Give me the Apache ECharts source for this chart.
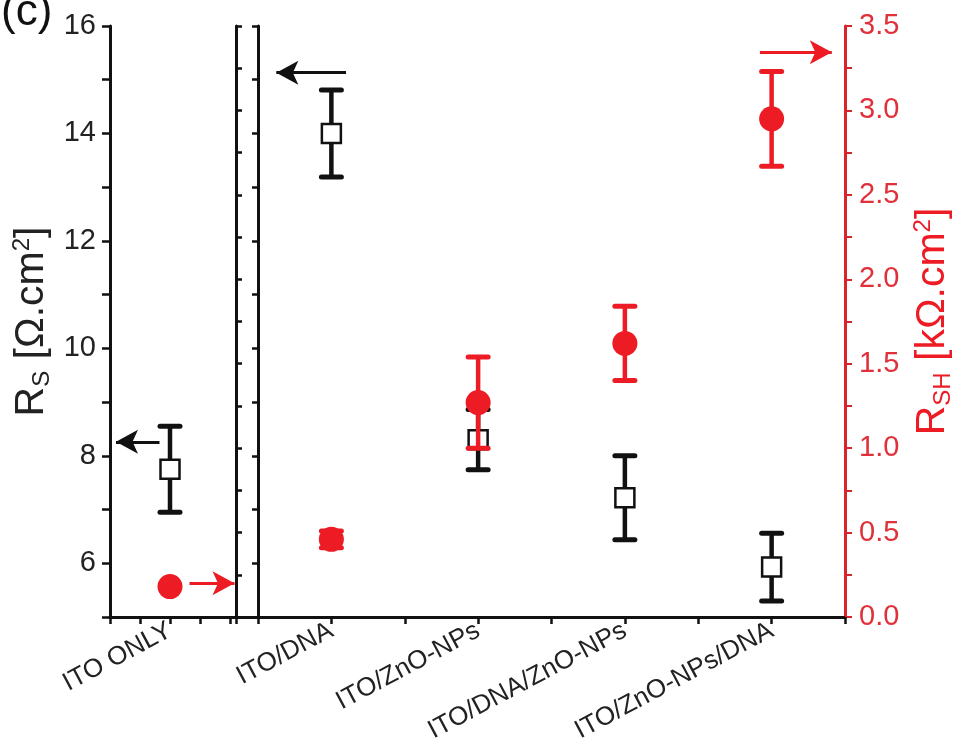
<!DOCTYPE html>
<html>
<head>
<meta charset="utf-8">
<script src="https://cdn.jsdelivr.net/npm/echarts@6/dist/echarts.min.js"></script>
<style>
  html, body { margin: 0; padding: 0; background: #fff; }
  #chart { width: 963px; height: 740px; }
</style>
</head>
<body>
<div id="chart"></div>
<script>
// values
const categories = ['ITO ONLY', 'ITO/DNA', 'ITO/ZnO-NPs', 'ITO/DNA/ZnO-NPs', 'ITO/ZnO-NPs/DNA']
const rsValues = [7.75, 14.0, 8.3, 7.22, 5.93]        // Ω.cm2, left axis
const rsErrors = [0.8, 0.81, 0.56, 0.78, 0.63]
const rshValues = [0.18, 0.46, 1.27, 1.62, 2.95]      // kΩ.cm2, right axis
const rshErrors = [0, 0.05, 0.27, 0.22, 0.28]

const RED = '#ec1b24'
const BLACK = '#111'

// first category sits alone in the left panel, the rest in the right panel
const leftX = [2]
const rightX = categories.slice(1).map((_, i) => 2 * i + 1)

function points(vals, xs, offset) {
  return xs.map((x, i) => [x, vals[i + offset]])
}
function bars(vals, errs, xs, offset) {
  return xs.map((x, i) => [x, vals[i + offset] - errs[i + offset], vals[i + offset] + errs[i + offset]])
}

function errorBar(color) {
  return function (params, api) {
    const x = api.value(0)
    const lo = api.value(1)
    const hi = api.value(2)
    if (hi - lo <= 0) return null
    const top = api.coord([x, hi])
    const bot = api.coord([x, lo])
    const w = 10
    return {
      type: 'group',
      children: [
        { type: 'line', shape: { x1: top[0], y1: top[1], x2: bot[0], y2: bot[1] }, style: { stroke: color, lineWidth: 4.5 } },
        { type: 'line', shape: { x1: top[0] - w, y1: top[1], x2: top[0] + w, y2: top[1] }, style: { stroke: color, lineWidth: 5, lineCap: 'round' } },
        { type: 'line', shape: { x1: bot[0] - w, y1: bot[1], x2: bot[0] + w, y2: bot[1] }, style: { stroke: color, lineWidth: 5, lineCap: 'round' } },
      ],
    }
  }
}

function arrow(color, from, to) {
  return {
    silent: true,
    symbol: ['none', 'arrow'],
    symbolSize: [18, 22],
    label: { show: false },
    lineStyle: { color: color, width: 3, type: 'solid', opacity: 1 },
    data: [[{ coord: from }, { coord: to }]],
  }
}

const rsFmt = (v) => (Math.round(v) % 2 === 0 ? String(Math.round(v)) : '')
const rshFmt = (v) => (Math.abs(v * 2 - Math.round(v * 2)) < 1e-6 ? v.toFixed(1) : '')

const blackLine = { show: true, lineStyle: { color: BLACK, width: 3 } }
const catLabel = { rotate: 28, fontSize: 26, color: '#222', margin: 12 }

const chart = echarts.init(document.getElementById('chart'))
chart.setOption({
  animation: false,
  textStyle: { fontFamily: 'Liberation Sans, Arial, sans-serif' },
  title: {
    text: '(c)',
    left: -4,
    top: -14,
    textStyle: { fontSize: 44, fontWeight: 'normal', color: BLACK, fontFamily: 'Liberation Sans, Arial, sans-serif' },
  },
  grid: [
    { left: 110, top: 26, width: 126, height: 591, outerBoundsMode: 'none' },
    { left: 258, top: 26, width: 587, height: 591, outerBoundsMode: 'none' },
    { left: 110, top: 26, width: 735, height: 591, outerBoundsMode: 'none' },
  ],
  xAxis: [
    {
      type: 'value', gridIndex: 0, min: 0, max: 4.2, interval: 1,
      axisLine: blackLine,
      axisTick: { show: true, length: 7, lineStyle: { color: BLACK, width: 2.5 } },
      splitLine: { show: false },
      axisLabel: Object.assign({}, catLabel, {
        formatter: (v) => (v === leftX[0] ? categories[0] : ''),
      }),
    },
    {
      type: 'value', gridIndex: 1, min: 0, max: 8, interval: 1,
      axisLine: blackLine,
      axisTick: { show: true, length: 7, lineStyle: { color: BLACK, width: 2.5 } },
      splitLine: { show: false },
      axisLabel: Object.assign({}, catLabel, {
        formatter: (v) => {
          const i = rightX.indexOf(v)
          return i >= 0 ? categories[i + 1] : ''
        },
      }),
    },
    {
      type: 'value', gridIndex: 2, position: 'top', min: 0, max: 1,
      axisLine: blackLine, axisTick: { show: false }, axisLabel: { show: false }, splitLine: { show: false },
    },
  ],
  yAxis: [
    {
      type: 'value', gridIndex: 0, min: 5, max: 16, interval: 1,
      axisLine: blackLine,
      axisTick: { show: true, length: 8, lineStyle: { color: BLACK, width: 2.5 } },
      splitLine: { show: false },
      axisLabel: { fontSize: 29, color: '#222', margin: 14, formatter: rsFmt },
      name: 'R{sub|S} [Ω.cm{sup|2}]',
      nameLocation: 'middle',
      nameGap: 56,
      nameTextStyle: {
        fontSize: 41, color: '#222',
        rich: {
          sub: { fontSize: 24, color: '#222', verticalAlign: 'bottom', padding: [20, 0, 0, 0] },
          sup: { fontSize: 24, color: '#222', verticalAlign: 'top', padding: [0, 0, 16, 0] },
        },
      },
    },
    {
      type: 'value', gridIndex: 0, position: 'right', min: 0, max: 3.5, interval: 0.25,
      axisLine: blackLine,
      axisTick: { show: true, length: 6, lineStyle: { color: BLACK, width: 2.5 } },
      axisLabel: { show: false }, splitLine: { show: false },
    },
    {
      type: 'value', gridIndex: 1, position: 'left', min: 5, max: 16, interval: 1,
      axisLine: blackLine,
      axisTick: { show: true, length: 6, lineStyle: { color: BLACK, width: 2.5 } },
      axisLabel: { show: false }, splitLine: { show: false },
    },
    {
      type: 'value', gridIndex: 1, position: 'right', min: 0, max: 3.5, interval: 0.25,
      axisLine: { show: true, lineStyle: { color: '#d8242b', width: 3 } },
      axisTick: { show: true, length: 7, lineStyle: { color: '#d8242b', width: 2 } },
      splitLine: { show: false },
      axisLabel: { fontSize: 29, color: '#e0303a', margin: 14, formatter: rshFmt },
      name: 'R{sub|SH} [kΩ.cm{sup|2}]',
      nameLocation: 'middle',
      nameGap: 66,
      nameTextStyle: {
        fontSize: 41, color: RED,
        rich: {
          sub: { fontSize: 24, color: RED, verticalAlign: 'bottom', padding: [20, 0, 0, 0] },
          sup: { fontSize: 24, color: RED, verticalAlign: 'top', padding: [0, 0, 16, 0] },
        },
      },
    },
    { type: 'value', gridIndex: 2, show: false, min: 0, max: 1 },
  ],
  series: [
    // left panel
    {
      type: 'custom', xAxisIndex: 0, yAxisIndex: 0, renderItem: errorBar(BLACK),
      encode: { x: 0, y: [1, 2] }, data: bars(rsValues, rsErrors, leftX, 0), z: 2,
    },
    {
      type: 'scatter', xAxisIndex: 0, yAxisIndex: 0, symbol: 'rect', symbolSize: 19,
      itemStyle: { color: '#fff', borderColor: BLACK, borderWidth: 2.5, opacity: 1 },
      data: points(rsValues, leftX, 0), z: 3,
      markLine: arrow(BLACK, [1.65, 8.26], [0.2, 8.26]),
    },
    {
      type: 'custom', xAxisIndex: 0, yAxisIndex: 1, renderItem: errorBar(RED),
      encode: { x: 0, y: [1, 2] }, data: bars(rshValues, rshErrors, leftX, 0), z: 4,
    },
    {
      type: 'scatter', xAxisIndex: 0, yAxisIndex: 1, symbol: 'circle', symbolSize: 25,
      itemStyle: { color: RED, opacity: 1 }, data: points(rshValues, leftX, 0), z: 5,
      markLine: arrow(RED, [2.65, 0.2], [4.15, 0.2]),
    },
    // right panel
    {
      type: 'custom', xAxisIndex: 1, yAxisIndex: 2, renderItem: errorBar(BLACK),
      encode: { x: 0, y: [1, 2] }, data: bars(rsValues, rsErrors, rightX, 1), z: 2,
    },
    {
      type: 'scatter', xAxisIndex: 1, yAxisIndex: 2, symbol: 'rect', symbolSize: 19,
      itemStyle: { color: '#fff', borderColor: BLACK, borderWidth: 2.5, opacity: 1 },
      data: points(rsValues, rightX, 1), z: 3,
      markLine: arrow(BLACK, [1.2, 15.13], [0.25, 15.13]),
    },
    {
      type: 'custom', xAxisIndex: 1, yAxisIndex: 3, renderItem: errorBar(RED),
      encode: { x: 0, y: [1, 2] }, data: bars(rshValues, rshErrors, rightX, 1), z: 4,
    },
    {
      type: 'scatter', xAxisIndex: 1, yAxisIndex: 3, symbol: 'circle', symbolSize: 25,
      itemStyle: { color: RED, opacity: 1 }, data: points(rshValues, rightX, 1), z: 5,
      markLine: arrow(RED, [6.84, 3.345], [7.82, 3.345]),
    },
  ],
})
</script>
</body>
</html>
